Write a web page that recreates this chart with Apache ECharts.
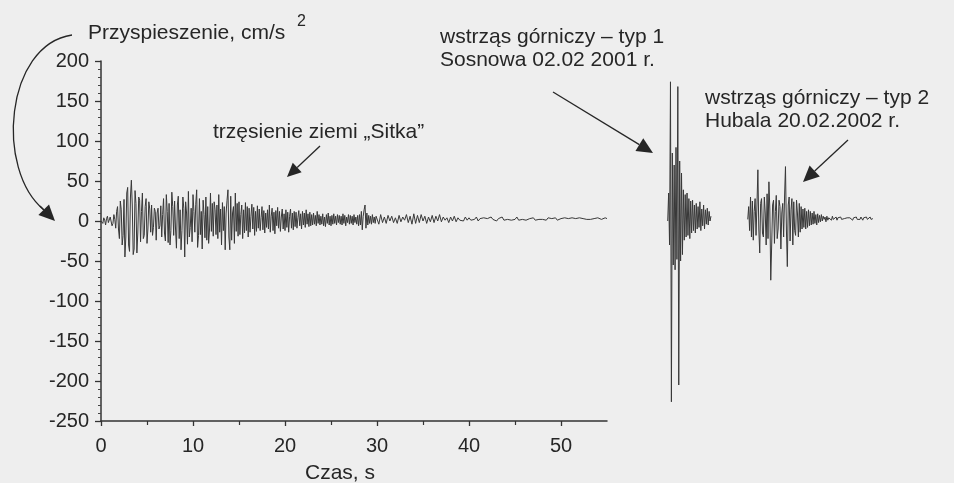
<!DOCTYPE html>
<html>
<head>
<meta charset="utf-8">
<script src="https://cdn.jsdelivr.net/npm/echarts@6/dist/echarts.min.js"></script>
<style>
  html, body { margin: 0; padding: 0; background: #eeeeee; }
  #chart { width: 954px; height: 483px; }
</style>
</head>
<body>
<div id="chart"></div>
<script>
var myChart = echarts.init(document.getElementById('chart'));

// trzęsienie ziemi "Sitka": 0-30 s co 0.1 s
var sitkaStart = 0, sitkaStep = 0.1;
var sitka = [
    0, 2, -3, 4, 1, -5, 3, 6, -2, -4,
    5, 7, -6, -3, 8, 2, -9, 12, 18, -10,
    -22, 25, 14, -30, -18, 27, -45, -20, 35, 42,
    -30, -38, 30, 51, 20, -42, -35, 38, 22, -40,
    -15, 30, 26, -26, 12, 35, -22, -18, 18, 28,
    -28, -10, 24, 15, -14, 20, -18, -8, 16, 12,
    -24, 10, 16, -10, -6, 19, -20, 8, 28, -15,
    -25, 33, 12, -27, 22, -30, -12, 36, 18, -18,
    25, -10, -34, 20, 31, -22, 14, -36, -12, 30,
    16, -45, 24, 10, -29, 37, -20, -8, 16, -26,
    33, 12, -14, 21, 39, -33, -18, 28, -17, 12,
    -35, 26, 8, -21, 30, -24, 18, -28, -10, 35,
    -13, 22, -19, 24, 14, -17, 20, -22, 33, -14,
    15, -30, 23, -12, 18, -36, 10, 26, 39, -20,
    -36, 31, -24, 10, 18, -28, 35, -13, 22, -19,
    24, -17, 8, 20, -22, 14, -15, 23, -12, 18,
    -20, 16, -14, 6, 21, -10, 17, -18, 12, -13,
    19, -9, 15, -12, 4, 18, -11, 13, -15, 10,
    -8, 14, -10, 20, -14, 6, 16, -12, 11, -16,
    13, -6, 17, -9, 12, -13, 5, 15, -10, 9,
    -12, 14, -8, 11, -14, 6, 15, -9, 10, -11,
    12, -7, 11, -9, 4, 13, -6, 9, -10, 12,
    -5, 10, -8, 14, -4, 9, -7, 11, -6, 8,
    -5, 10, -4, 7, -6, 12, -3, 8, -5, 6,
    -4, 9, -6, 5, -7, 8, -3, 10, -5, 6,
    -6, 7, -4, 9, -3, 6, -5, 8, -2, 7,
    -4, 6, -5, 9, -3, 7, -6, 5, -2, 8,
    -4, 7, -3, 6, -5, 8, -2, 5, -4, 7,
    -6, 8, -5, 12, -11, 6, 14, 20, -9, 10,
    -5, 7, -3, 6, -4, 8, -2, 5, -3, 6
];

// ogon zapisu "Sitka": 30-55 s co 0.2 s
var sitkaTailStart = 30, sitkaTailStep = 0.2;
var sitkaTail = [
    6, -4, 8, -2, 5, -3, 7, 0, 6, -2,
    4, -3, 7, -1, 5, 1, 8, -2, 6, -4,
    9, -3, 7, -2, 8, 0, 6, -3, 5, -1,
    7, -2, 6, 0, 8, -1, 5, 1, 4, -2,
    5, 0, 6, -1, 4, 1, 3, 0, 5, 1,
    4, 1, 3, 2, 5, 0, 3, 1, 4, 2,
    3, 1, 5, 2, 4, 0, 3, 2, 5, 1,
    3, 2, 4, 1, 3, 2, 5, 1, 3, 2,
    4, 1, 3, 3, 2, 4, 1, 3, 2, 4,
    2, 3, 1, 4, 2, 3, 2, 4, 1, 3,
    3, 2, 4, 2, 3, 1, 4, 2, 3, 2,
    4, 2, 3, 3, 2, 4, 2, 3, 3, 2,
    4, 3, 2, 3, 4, 3
];

// wstrząs górniczy – typ 1 (Sosnowa), co 0.1 s
var typ1Start = 61.6, typ1Step = 0.1;
var typ1 = [
    0, 35, -30, 174, -226, 85, -55, 70, -61, 92,
    -48, 168, -205, 75, -50, 60, -42, 39, -24, 33,
    -20, 35, -18, 28, -22, 25, -15, 26, -12, 20,
    -15, 22, -10, 18, -8, 24, -12, 15, -6, 20,
    -10, 14, -4, 16, -5, 12, 0, 6
];

// wstrząs górniczy – typ 2 (Hubala), co 0.1 s
var typ2Start = 70.3, typ2Step = 0.1;
var typ2 = [
    2, 18, -12, 30, -20, 25, -24, 12, 28, -18,
    20, 64, -10, -40, 22, 28, -15, -20, 30, 10,
    -30, 34, -22, 49, 15, -74, -30, 20, 26, -28,
    12, 32, -22, -10, 26, 18, -35, 10, 22, -20,
    30, 68, -10, -57, 20, 30, -25, 14, 28, -30,
    24, -12, -18, 26, 10, -20, 22, -14, 18, -10,
    15, -8, 16, -10, 12, -8, 14, -6, 12, -5,
    10, -4, 12, -3, 8, -5, 9, -2, 7, -1,
    8, 0, 6, 2, 5, -1, 6, 1, 4, 3,
    5, 1, 6, 2, 4, 3, 5, 1, 4, 2,
    3, 5, 2, 4, 1, 3, 5, 2, 4, 3,
    2, 4, 3, 5, 1, 4, 2, 3, 5, 2,
    4, 3, 2, 5, 3, 1, 4, 2, 3, 5,
    2, 4, 3, 5, 2, 4, 3
];

var xMajor = [0, 10, 20, 30, 40, 50];
var xMinor = [5, 15, 25, 35, 45];

function pairs(start, step, vals) {
    return vals.map(function (v, i) {
        return [+(start + i * step).toFixed(2), v];
    });
}

var font = '"Liberation Sans", Arial, sans-serif';
var ink = '#262626';
var trace = '#383838';

function arrow(x1, y1, x2, y2, len, half) {
    var a = Math.atan2(y2 - y1, x2 - x1);
    var bx = x2 - len * Math.cos(a), by = y2 - len * Math.sin(a);
    var nx = -Math.sin(a) * half, ny = Math.cos(a) * half;
    return [
        { type: 'line', shape: { x1: x1, y1: y1, x2: bx, y2: by }, style: { stroke: ink, lineWidth: 1.3 } },
        { type: 'polygon', shape: { points: [[x2, y2], [bx + nx, by + ny], [bx - nx, by - ny]] }, style: { fill: ink } }
    ];
}

function label(x, y, text) {
    return {
        type: 'text', x: x, y: y,
        style: { text: text, font: '21px ' + font, fill: ink, lineHeight: 23, verticalAlign: 'top' }
    };
}

var graphics = [
    label(88, 22, 'Przyspieszenie, cm/s'),
    { type: 'text', x: 297, y: 14, style: { text: '2', font: '16px ' + font, fill: ink, verticalAlign: 'top' } },
    label(213, 121, 'trzęsienie ziemi „Sitka”'),
    label(440, 26, 'wstrząs górniczy – typ 1\nSosnowa 02.02 2001 r.'),
    label(705, 87, 'wstrząs górniczy – typ 2\nHubala 20.02.2002 r.'),
    label(305, 462, 'Czas, s'),
    {
        type: 'bezierCurve',
        shape: { x1: 72, y1: 35, cpx1: 5, cpy1: 45, cpx2: -5, cpy2: 170, x2: 44, y2: 210 },
        style: { stroke: ink, lineWidth: 1.3, fill: null }
    }
]
.concat(arrow(40, 206, 55, 221, 16, 7.5))
.concat(arrow(320, 146, 287, 177, 14, 6.5))
.concat(arrow(553, 92, 653, 153, 16, 7.5))
.concat(arrow(848, 140, 803, 182, 16, 7.5));

var axisLine = { show: true, onZero: false, lineStyle: { color: '#333', width: 1.5 } };

option = {
    backgroundColor: '#eeeeee',
    animation: false,
    grid: [
        { left: 101, top: 61, width: 506, height: 360 },
        { left: 607, top: 61, width: 285.2, height: 360 }
    ],
    xAxis: [
        {
            type: 'value', gridIndex: 0, position: 'bottom', min: 0, max: 55,
            axisLine: axisLine,
            axisTick: { show: true, length: 5, customValues: xMajor, lineStyle: { color: '#333', width: 1.3 } },
            axisLabel: { customValues: xMajor, margin: 15, fontSize: 20, fontFamily: font, color: ink },
            splitLine: { show: false }
        },
        {
            type: 'value', gridIndex: 0, position: 'bottom', min: 0, max: 55,
            axisLine: { show: false, onZero: false },
            axisTick: { show: true, length: 4, customValues: xMinor, lineStyle: { color: '#333', width: 1.2 } },
            axisLabel: { show: false },
            splitLine: { show: false }
        },
        { type: 'value', gridIndex: 1, min: 55, max: 86, show: false }
    ],
    yAxis: [
        {
            type: 'value', gridIndex: 0, min: -250, max: 200, interval: 50,
            axisLine: axisLine,
            axisTick: { show: true, length: 6, lineStyle: { color: '#333', width: 1.3 } },
            minorTick: { show: true, splitNumber: 5, length: 3, lineStyle: { color: '#444' } },
            axisLabel: { margin: 12, fontSize: 20, fontFamily: font, color: ink },
            splitLine: { show: false }
        },
        { type: 'value', gridIndex: 1, min: -250, max: 200, show: false }
    ],
    graphic: graphics,
    series: [
        {
            name: 'Sitka', type: 'line', xAxisIndex: 0, yAxisIndex: 0,
            showSymbol: false, lineStyle: { color: trace, width: 1 },
            data: pairs(sitkaStart, sitkaStep, sitka).concat(pairs(sitkaTailStart, sitkaTailStep, sitkaTail))
        },
        {
            name: 'typ 1', type: 'line', xAxisIndex: 2, yAxisIndex: 1,
            showSymbol: false, lineStyle: { color: trace, width: 1 },
            data: pairs(typ1Start, typ1Step, typ1)
        },
        {
            name: 'typ 2', type: 'line', xAxisIndex: 2, yAxisIndex: 1,
            showSymbol: false, lineStyle: { color: trace, width: 1 },
            data: pairs(typ2Start, typ2Step, typ2)
        }
    ]
};

myChart.setOption(option);
</script>
</body>
</html>
